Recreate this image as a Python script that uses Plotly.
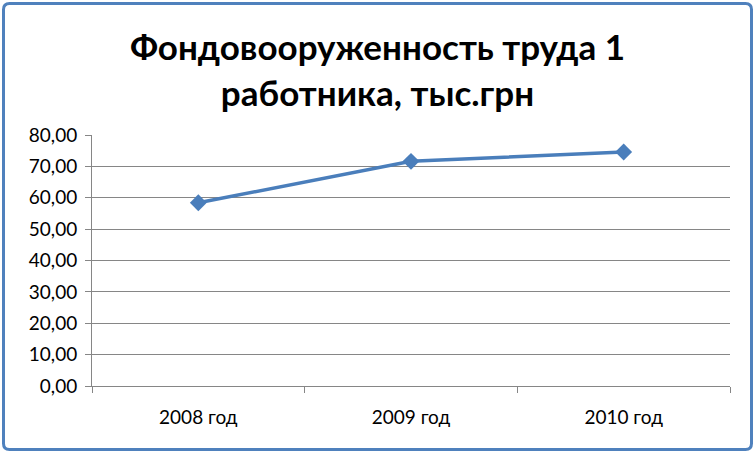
import plotly.graph_objects as go

categories = ["2008 год", "2009 год", "2010 год"]
values = [58.4, 71.6, 74.6]
y_ticks = [0, 10, 20, 30, 40, 50, 60, 70, 80]

W, H = 755, 453
ml, mr, mt, mb = 92, 25, 135, 67
pw, ph = W - ml - mr, H - mt - mb

def px(x):
    return (x - ml) / pw

def py(y):
    return (H - mb - y) / ph

# rounded border path in paper coords
x0, x1, y0, y1, r = 3.5, 751.5, 3.5, 449.5, 6
def pt(x, y):
    return f"{px(x):.5f},{py(y):.5f}"
path = (f"M {pt(x0 + r, y0)} L {pt(x1 - r, y0)} Q {pt(x1, y0)} {pt(x1, y0 + r)} "
        f"L {pt(x1, y1 - r)} Q {pt(x1, y1)} {pt(x1 - r, y1)} "
        f"L {pt(x0 + r, y1)} Q {pt(x0, y1)} {pt(x0, y1 - r)} "
        f"L {pt(x0, y0 + r)} Q {pt(x0, y0)} {pt(x0 + r, y0)} Z")

fig = go.Figure()
fig.add_trace(go.Scatter(
    x=categories, y=values, mode="lines+markers",
    line=dict(color="#4A7EBB", width=3.5),
    marker=dict(symbol="diamond", size=13, color="#4A7EBB"),
    cliponaxis=False,
))

fig.update_layout(
    width=W, height=H,
    margin=dict(l=ml, r=mr, t=mt, b=mb),
    paper_bgcolor="white", plot_bgcolor="white",
    separators=", ",
    showlegend=False,
    title=dict(
        text="<b>Фондовооруженность труда 1<br>работника, тыс.грн</b>",
        x=0.5, xanchor="center", y=1 - 60 / H, yanchor="top",
        font=dict(family="Lato", size=35, color="black"),
    ),
    font=dict(family="Lato", size=19, color="black"),
    shapes=[dict(type="path", xref="paper", yref="paper", path=path,
                 line=dict(color="#4F81BD", width=3), fillcolor="rgba(0,0,0,0)")],
)
fig.update_xaxes(
    type="category", range=[-0.5, 2.5],
    showline=True, linecolor="#868686", linewidth=1,
    ticks="outside", tickson="boundaries", ticklen=6, tickcolor="#868686",
    showgrid=False, ticklabelstandoff=14,
)
fig.update_yaxes(
    range=[0, 80], tickvals=y_ticks, tickformat=".2f",
    showline=True, linecolor="#868686", linewidth=1,
    ticks="outside", ticklen=6, tickcolor="#868686",
    showgrid=True, gridcolor="#868686", gridwidth=1,
    zeroline=False, ticklabelstandoff=4,
)

fig.write_html("out.html", config={"displayModeBar": False},
               post_script="document.body.style.margin='0';document.body.style.overflow='hidden';")
